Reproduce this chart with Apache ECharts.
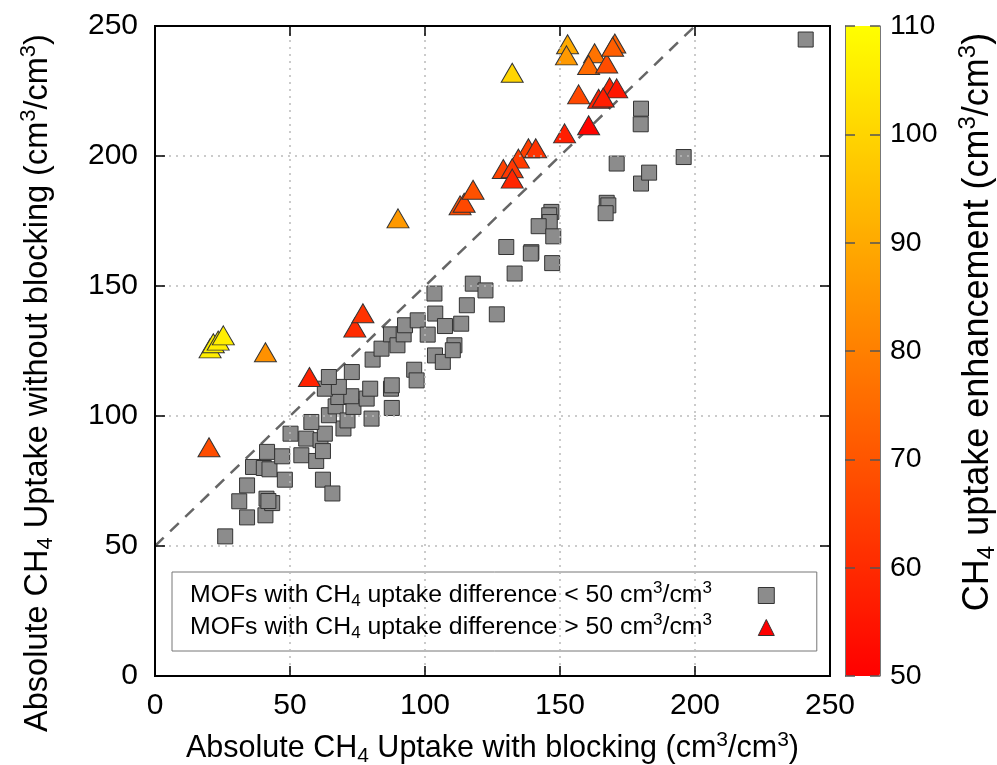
<!DOCTYPE html>
<html>
<head>
<meta charset="utf-8">
<script src="https://cdn.jsdelivr.net/npm/echarts@6/dist/echarts.min.js"></script>
<style>
  html, body { margin: 0; padding: 0; background: #fff; }
  #main { width: 997px; height: 765px; }
</style>
</head>
<body>
<div id="main"></div>
<script>
// MOFs with uptake difference < 50 : [with blocking, without blocking]
var smallDiff = [
  [26,53.7],[34.1,61],[40.9,61.8],[31.2,67.2],[41.3,68.2],[43.4,66.5],[42,67.3],[34.1,73.3],
  [48.1,75.5],[36.3,80.4],[40.3,80],[42.4,79.5],[41.5,86.2],[47.1,84.5],[50.2,93.2],[54.2,84.9],
  [56,91.3],[59.7,82.7],[61.3,90.7],[62.2,86.5],[62.2,75.5],[65.7,70.2],[62.9,93.2],[69.8,95.2],
  [57.9,97.7],[64.4,100.3],[66.9,103.7],[71.3,98.3],[73.5,103.5],[67.9,107.3],[72.7,107.6],
  [78.4,106.7],[79.7,110.5],[80.2,99],[87.7,103.1],[87.4,110.5],[87.7,111.8],[62.9,110.5],
  [68.1,111.2],[64.4,115],[72.9,116.9],[80.6,121.7],[83.9,125.9],[87.4,131.4],[89.8,127.2],
  [92.1,131.4],[92.6,134.9],[97.3,136.8],[101,131.3],[96,117.8],[96.9,113.7],[103.5,147.1],
  [103.8,139.4],[107.4,134.6],[113.4,135.5],[115.5,142.6],[117.7,150.9],[103.7,123.3],
  [106.6,120.8],[110.9,127.2],[110.3,125.3],[122.4,148.3],[126.6,139.1],[130.1,165],
  [133.2,154.8],[139.4,163],[139.2,162.5],[147.1,158.8],[146.8,178.5],[146,177.2],[146.2,174.6],
  [142.1,173],[147.5,169.1],[167.3,182],[167.9,181],[166.9,178],[180,189.4],[183,193.6],
  [171,197.1],[195.8,199.6],[180,218.2],[179.9,212.2],[241,244.8]
];

// MOFs with uptake difference > 50 : [with blocking, without blocking, enhancement]
var largeDiff = [
  [20.4,126,106],[21.6,128,107],[23.4,129,106],[25.3,131,106],[40.9,124.5,84],[20,88,68],
  [57.2,115,58],[74,134,60],[77,139.5,62],[90,176,86],[113,181,68],[114.5,182,67],
  [117.8,187,69],[132.3,232,100],[152.8,243,90],[152.4,238.7,86],[162.8,239.5,77],
  [160.6,235,75],[167.3,235.6,68],[170.3,243.3,73],[169.5,242,72],[156.9,223.7,67],
  [168.4,226.4,58],[171,226,55],[164.3,222,58],[166,222.5,57],[160.6,211.8,51],
  [151.7,208.7,57],[138.3,203,65],[141,203,62],[134.6,199,64],[129,195,66],
  [132.3,195.3,63],[132.3,191.3,59]
];

// parity line shifted by 50
var refLine = [[0,50],[200,250]];

var nameSmall = 'MOFs with CH4 uptake difference < 50 cm3/cm3';
var nameLarge = 'MOFs with CH4 uptake difference > 50 cm3/cm3';

var font = 'Liberation Sans';

function richStyle(size) {
  return {
    n: { fontSize: size, fontFamily: font, color: '#000' },
    sub: { fontSize: Math.round(size * 0.68), fontFamily: font, color: '#000', padding: [Math.round(size * 0.5), 0, 0, 0] },
    sup: { fontSize: Math.round(size * 0.68), fontFamily: font, color: '#000', padding: [0, 0, Math.round(size * 0.55), 0] }
  };
}

var frameLine = { onZero: false, lineStyle: { color: '#000', width: 2 } };
var frameTick = { inside: true, length: 10, lineStyle: { color: '#000', width: 1.5 } };
var gridLine = { show: true, showMinLine: false, showMaxLine: false, lineStyle: { color: '#bbb', type: [2, 5], width: 1.5 } };

var chart = echarts.init(document.getElementById('main'));

var option = {
  animation: false,
  backgroundColor: '#fff',
  textStyle: { fontFamily: font },
  grid: [
    { left: 155, top: 26, width: 675, height: 650, outerBoundsMode: 'none', show: true, borderColor: '#000', borderWidth: 2, backgroundColor: 'transparent' },
    { left: 845, top: 26, width: 35, height: 650, outerBoundsMode: 'none', show: false }
  ],
  xAxis: [
    {
      gridIndex: 0, type: 'value', min: 0, max: 250, interval: 50, z: 5,
      axisLine: frameLine, axisTick: frameTick,
      axisLabel: { fontSize: 30, color: '#000', margin: 15 },
      splitLine: gridLine,
      name: '{n|Absolute CH}{sub|4}{n| Uptake with blocking (cm}{sup|3}{n|/cm}{sup|3}{n|)}',
      nameLocation: 'middle', nameGap: 54,
      nameTextStyle: { rich: richStyle(30.5) }
    },
    {
      gridIndex: 0, type: 'value', position: 'top', min: 0, max: 250, interval: 50, z: 5,
      axisLine: frameLine, axisTick: frameTick,
      axisLabel: { show: false }, splitLine: { show: false }
    },
    { gridIndex: 1, type: 'value', min: 0, max: 1, show: false }
  ],
  yAxis: [
    {
      gridIndex: 0, type: 'value', min: 0, max: 250, interval: 50, z: 5,
      axisLine: frameLine, axisTick: frameTick,
      axisLabel: { fontSize: 30, color: '#000', margin: 17 },
      splitLine: gridLine,
      name: '{n|Absolute CH}{sub|4}{n| Uptake without blocking (cm}{sup|3}{n|/cm}{sup|3}{n|)}',
      nameLocation: 'middle', nameGap: 97, nameRotate: 90,
      nameTextStyle: { rich: richStyle(32.5), padding: [0, 64, 0, 0] }
    },
    {
      gridIndex: 0, type: 'value', position: 'right', min: 0, max: 250, interval: 50, z: 5,
      axisLine: frameLine, axisTick: frameTick,
      axisLabel: { show: false }, splitLine: { show: false }
    },
    {
      gridIndex: 1, type: 'value', position: 'right', min: 50, max: 110, interval: 10, z: 5,
      axisLine: { show: true, onZero: false, lineStyle: { color: '#777', width: 1 } },
      axisTick: { inside: true, length: 10, lineStyle: { color: '#555', width: 1.5 } },
      axisLabel: { fontSize: 28.5, color: '#000', margin: 10 },
      splitLine: { show: false },
      name: '{n|CH}{sub|4}{n| uptake enhancement (cm}{sup|3}{n|/cm}{sup|3}{n|)}',
      nameLocation: 'middle', nameGap: 76, nameRotate: 90,
      nameTextStyle: { rich: richStyle(36), padding: [0, 0, 0, 58] }
    },
    {
      gridIndex: 1, type: 'value', position: 'left', min: 50, max: 110, interval: 10, z: 5,
      axisLine: { show: true, onZero: false, lineStyle: { color: '#777', width: 1 } },
      axisTick: { inside: true, length: 10, lineStyle: { color: '#555', width: 1.5 } },
      axisLabel: { show: false }, splitLine: { show: false }
    }
  ],
  visualMap: {
    type: 'continuous',
    seriesIndex: 1,
    dimension: 2,
    min: 50, max: 110,
    calculable: false,
    orient: 'vertical',
    left: 845, top: 26,
    itemWidth: 35, itemHeight: 650,
    padding: 0,
    text: null,
    showLabel: false,
    z: 1,
    inRange: { color: ['#ff0000', '#ffff00'] }
  },
  legend: {
    orient: 'vertical',
    left: 172, top: 572,
    align: 'right',
    itemWidth: 16, itemHeight: 16, itemGap: 2,
    padding: [8, 42, 9, 18],
    borderColor: '#777', borderWidth: 1,
    backgroundColor: '#fff',
    data: [
      { name: nameSmall, icon: 'rect', itemStyle: { color: '#8c8c8c', borderColor: '#333', borderWidth: 1 } },
      { name: nameLarge, icon: 'triangle', itemStyle: { color: '#ff0000', borderColor: '#333', borderWidth: 1 } }
    ],
    formatter: function (name) {
      var sign = name === nameSmall ? '<' : '>';
      return '{n|MOFs with CH}{sub|4}{n| uptake difference ' + sign + ' 50 cm}{sup|3}{n|/cm}{sup|3}{n|      }';
    },
    textStyle: { rich: richStyle(24.8) }
  },
  series: [
    {
      name: nameSmall, type: 'scatter', xAxisIndex: 0, yAxisIndex: 0,
      symbol: 'rect', symbolSize: 15, z: 3,
      itemStyle: { color: '#8c8c8c', borderColor: '#333', borderWidth: 1, opacity: 1 },
      data: smallDiff
    },
    {
      name: nameLarge, type: 'scatter', xAxisIndex: 0, yAxisIndex: 0,
      symbol: 'triangle', symbolSize: [22, 19], z: 4,
      itemStyle: { color: '#ff0000', borderColor: '#333', borderWidth: 1, opacity: 1 },
      data: largeDiff
    },
    {
      type: 'line', xAxisIndex: 0, yAxisIndex: 0, silent: true, z: 2,
      symbol: 'none',
      lineStyle: { color: '#666', width: 2.5, type: [12, 9] },
      data: refLine
    }
  ]
};

chart.setOption(option);
</script>
</body>
</html>
